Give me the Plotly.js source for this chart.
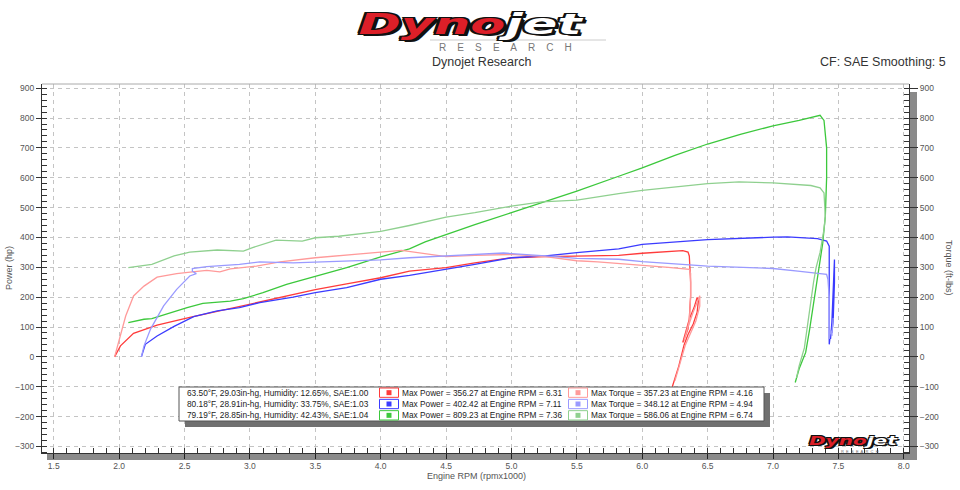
<!DOCTYPE html>
<html><head><meta charset="utf-8">
<script src="https://cdn.plot.ly/plotly-3.0.1.min.js"></script>
<style>html,body{margin:0;padding:0;background:#fff}#chart{width:960px;height:490px}</style>
</head><body><div id="chart"></div><script>
// ---- data ----
const redPowerRpm = [1.965,2.01,2.11,2.29,2.54,2.80,3.00,3.30,3.50,3.75,4.00,4.22,4.50,4.72,5.00,5.26,5.50,5.82,6.00,6.27,6.31,6.35,6.36,6.37,6.37,6.36,6.35,6.31,6.33,6.36,6.40,6.42,6.43,6.42,6.39,6.35,6.32,6.28,6.23];
const redPowerHp = [0,37,79,106,132,157,175,205,225,245,265,287,299,315,332,336,337,340,347,353,356,351,338,250,204,130,93,48,80,126,170,199,190,150,110,75,40,-30,-100];
const redTorqueRpm = [1.965,2.01,2.05,2.11,2.19,2.29,2.44,2.56,2.67,2.77,2.85,3.05,3.23,3.50,3.74,4.00,4.16,4.29,4.50,4.72,5.00,5.26,5.50,5.66,6.00,6.20,6.36,6.37,6.37,6.36,6.33,6.32,6.35,6.39,6.43,6.44,6.44,6.41,6.37,6.33,6.29,6.25];
const redTorqueFt = [0,70,137,204,237,267,279,285,290,285,295,304,318,332,340,351,357,349,336,340,343,336,322,318,308,300,293,280,200,120,70,55,100,150,200,205,170,120,80,40,-20,-80];

const bluePowerRpm = [2.17,2.20,2.29,2.42,2.57,2.75,2.92,3.075,3.33,3.50,3.74,4.00,4.22,4.50,4.72,5.00,5.26,5.50,5.82,6.00,6.50,7.00,7.11,7.34,7.41,7.43,7.43,7.43,7.43,7.43,7.44,7.44,7.45,7.46,7.47,7.47,7.46,7.45];
const bluePowerHp = [0,42,70,102,135,154,165,182,200,215,232,260,273,293,310,332,338,349,362,377,393,401,402,396,388,371,300,204,93,42,80,60,115,200,326,250,120,80];
const blueTorqueRpm = [2.17,2.19,2.24,2.34,2.44,2.54,2.59,2.56,2.56,2.67,2.92,3.075,3.33,3.50,3.74,4.00,4.22,4.50,4.72,4.94,5.26,5.50,5.82,6.00,6.50,7.00,7.19,7.41,7.42,7.43,7.43,7.43,7.44,7.45,7.46];
const blueTorqueFt = [0,37,93,171,226,271,279,287,296,302,310,318,315,318,321,325,332,338,343,348,338,330,327,319,304,296,287,276,260,200,120,60,90,70,130];

const greenPowerRpm = [2.07,2.19,2.25,2.39,2.52,2.64,2.85,2.95,3.10,3.28,3.50,3.74,4.00,4.22,4.34,4.50,4.72,5.00,5.23,5.50,5.82,6.00,6.25,6.50,6.75,7.00,7.20,7.34,7.36,7.39,7.41,7.41,7.40,7.38,7.35,7.33,7.28,7.25,7.20,7.17];
const greenPowerHp = [115,126,128,148,165,179,187,195,215,243,269,299,335,362,385,410,443,483,516,555,605,633,675,713,745,774,792,805,809,792,700,600,470,380,293,230,92,15,-40,-86];
const greenTorqueRpm = [2.07,2.25,2.42,2.54,2.75,2.95,3.02,3.20,3.40,3.50,3.68,3.89,4.00,4.22,4.34,4.50,4.72,5.00,5.23,5.50,5.82,6.00,6.50,6.74,7.00,7.29,7.36,7.39,7.40,7.39,7.36,7.33,7.31,7.27,7.24,7.20,7.18];
const greenTorqueFt = [299,310,338,351,358,354,366,391,388,399,404,413,420,440,451,468,483,505,519,525,547,558,580,586,583,574,566,549,471,427,350,300,250,120,30,-30,-70];

// legend table values
const runTempF = ["63.50","80.18","79.19"];
const runPressure = ["29.03","28.91","28.85"];
const runHumidity = ["12.65","33.75","42.43"];
const runSae = ["1.00","1.03","1.04"];
const maxPower = ["356.27","402.42","809.23"];
const maxPowerRpm = ["6.31","7.11","7.36"];
const maxTorque = ["357.23","348.12","586.06"];
const maxTorqueRpm = ["4.16","4.94","6.74"];

const powerColors = ["#ff3b3b","#3b3bff","#3cc83c"];
const torqueColors = ["#ff9a9a","#9a9aff","#8fd08f"];

// ---- layout helpers (pixel -> paper) ----
const L = 42, T = 84, W = 867, H = 369;
const px = x => (x - L) / W;
const py = y => (T + H - y) / H;

const traces = [];
const runs = [
  [redPowerRpm, redPowerHp, redTorqueRpm, redTorqueFt],
  [bluePowerRpm, bluePowerHp, blueTorqueRpm, blueTorqueFt],
  [greenPowerRpm, greenPowerHp, greenTorqueRpm, greenTorqueFt]
];
runs.forEach((r, i) => {
  traces.push({x: r[2], y: r[3], yaxis: 'y2', mode: 'lines', line: {color: torqueColors[i], width: 1.3}, hoverinfo: 'skip', showlegend: false});
  traces.push({x: r[0], y: r[1], mode: 'lines', line: {color: powerColors[i], width: 1.3}, hoverinfo: 'skip', showlegend: false});
});

const FONT = 'Liberation Sans, Arial, sans-serif';
const tickFont = {family: FONT, size: 8.5, color: '#555'};
const shapes = [];
const annotations = [];
function rect(x0, y0, x1, y1, fill, line, layer) {
  shapes.push({type: 'rect', xref: 'paper', yref: 'paper', x0: px(x0), x1: px(x1), y0: py(y1), y1: py(y0),
    fillcolor: fill, line: line || {width: 0}, layer: layer || 'above'});
}
function text(x, y, t, opts) {
  annotations.push(Object.assign({xref: 'paper', yref: 'paper', x: px(x), y: py(y), text: t, showarrow: false,
    xanchor: 'left', yanchor: 'middle', font: {family: FONT, size: 8.3, color: '#222'}}, opts || {}));
}

// plot frame shadows
rect(910, 92, 917, 460, '#8a8a8a', null, 'below');
rect(47, 454, 917, 460, '#8a8a8a', null, 'below');
// top border
shapes.push({type: 'line', xref: 'paper', yref: 'paper', x0: 0, x1: 1, y0: 1, y1: 1, line: {color: '#aaaaaa', width: 1}});

// legend table
rect(185, 393, 770, 427, '#707070');
rect(179, 387, 764, 421, '#ffffff', {color: '#555', width: 1});
const rowH = 11.33;
for (let i = 0; i < 3; i++) {
  const top = 387 + i * rowH;
  const cy = top + rowH / 2;
  rect(379.5, top + 1, 398.5, top + rowH - 1, '#ffffff', {color: powerColors[i], width: 1});
  rect(386.5, cy - 2.5, 391.5, cy + 2.5, powerColors[i]);
  rect(568.5, top + 1, 587.5, top + rowH - 1, '#ffffff', {color: torqueColors[i], width: 1});
  rect(575.5, cy - 2.5, 580.5, cy + 2.5, torqueColors[i]);
  text(185, cy, runTempF[i] + '°F, ' + runPressure[i] + 'in-hg, Humidity: ' + runHumidity[i] + '%, SAE:' + runSae[i]);
  text(400, cy, 'Max Power = ' + maxPower[i] + ' at Engine RPM = ' + maxPowerRpm[i]);
  text(589, cy, 'Max Torque = ' + maxTorque[i] + ' at Engine RPM = ' + maxTorqueRpm[i]);
}

// logo and titles
const outline = n => `-${n}px -${n}px 0 #111, ${n}px -${n}px 0 #111, -${n}px ${n}px 0 #111, ${n}px ${n}px 0 #111, 0 ${n}px 0 #111, 0 -${n}px 0 #111, ${n+1}px ${n+1}px 0 #111`;
const logoText = '<span style="color:#dc1f28">Dyno</span><span style="color:#ffffff">jet</span>';
shapes.push({type: 'line', xref: 'paper', yref: 'paper', x0: px(430), x1: px(606), y0: py(40), y1: py(40), line: {color: '#cccccc', width: 1}});
text(471, 24, logoText,
  {xanchor: 'center', font: {family: 'DejaVu Sans', size: 29, weight: 900, style: 'italic', color: '#dc1f28', shadow: outline(2)}});
text(506, 47, 'R\u00a0\u00a0\u00a0 E\u00a0\u00a0\u00a0 S\u00a0\u00a0\u00a0 E\u00a0\u00a0\u00a0 A\u00a0\u00a0\u00a0 R\u00a0\u00a0\u00a0 C\u00a0\u00a0\u00a0 H',
  {xanchor: 'center', font: {family: FONT, size: 10, color: '#777'}});
text(481, 62, 'Dynojet Research', {xanchor: 'center', font: {family: FONT, size: 12.5, color: '#333'}});
text(948, 62, 'CF: SAE Smoothing: 5', {xanchor: 'right', font: {family: FONT, size: 12.5, color: '#333'}});
// small logo bottom right
text(854, 440.5, logoText,
  {xanchor: 'center', font: {family: 'DejaVu Sans', size: 12, weight: 900, style: 'italic', color: '#dc1f28', shadow: outline(1)}});
text(860, 451.5, 'R\u00a0 E\u00a0 S\u00a0 E\u00a0 A\u00a0 R\u00a0 C\u00a0 H',
  {xanchor: 'center', font: {family: FONT, size: 4, color: '#666'}});

// axis titles
text(9, 268, 'Power (hp)', {xanchor: 'center', textangle: -90, font: {family: FONT, size: 9, color: '#555'}});
text(949, 268, 'Torque (ft-lbs)', {xanchor: 'center', textangle: 90, font: {family: FONT, size: 9, color: '#555'}});
text(476, 476, 'Engine RPM (rpmx1000)', {xanchor: 'center', font: {family: FONT, size: 9, color: '#555'}});

const yCommon = {
  range: [-322, 914], tick0: 0, dtick: 100, ticks: 'outside', ticklen: 5, tickcolor: '#333',
  tickfont: tickFont, showline: true, linecolor: '#333', linewidth: 1, zeroline: false,
  minor: {dtick: 20, ticks: 'inside', ticklen: 5, tickcolor: '#333', showgrid: false}
};

const layout = {
  width: 960, height: 490,
  margin: {l: L, r: 960 - L - W, t: T, b: 490 - T - H},
  paper_bgcolor: '#ffffff', plot_bgcolor: '#ffffff',
  showlegend: false,
  xaxis: {
    range: [1.41, 8.04], tick0: 1.5, dtick: 0.5, tickformat: '.1f',
    ticks: 'outside', ticklen: 5, tickcolor: '#222', tickfont: tickFont,
    showline: true, linecolor: '#333', linewidth: 1, zeroline: false,
    showgrid: true, gridcolor: '#c4c4c4', griddash: '4px,4px', gridwidth: 1,
    minor: {dtick: 0.1, ticks: 'inside', ticklen: 5, tickcolor: '#333', showgrid: false}
  },
  yaxis: Object.assign({}, yCommon, {showgrid: true, gridcolor: '#c4c4c4', griddash: '4px,4px', gridwidth: 1}),
  yaxis2: Object.assign({}, yCommon, {overlaying: 'y', side: 'right', showgrid: false, ticklen: 8}),
  shapes: shapes,
  annotations: annotations
};

// widen the logo word marks horizontally (the original logo is an extended typeface)
function stretchLogos() {
  const targets = [225, 90];
  const els = Array.from(document.querySelectorAll('g.annotation text.annotation-text'))
    .filter(el => el.textContent === 'Dynojet');
  els.forEach((el, k) => {
    const bb = el.getBBox();
    if (!bb.width) return;
    const s = targets[k] / bb.width;
    const cx = bb.x + bb.width / 2;
    const prev = el.getAttribute('transform') || '';
    el.setAttribute('transform', `translate(${cx},0) scale(${s},1) translate(${-cx},0) ${prev}`);
  });
}

Plotly.newPlot('chart', traces, layout, {staticPlot: true, displayModeBar: false}).then(stretchLogos);
</script></body></html>
